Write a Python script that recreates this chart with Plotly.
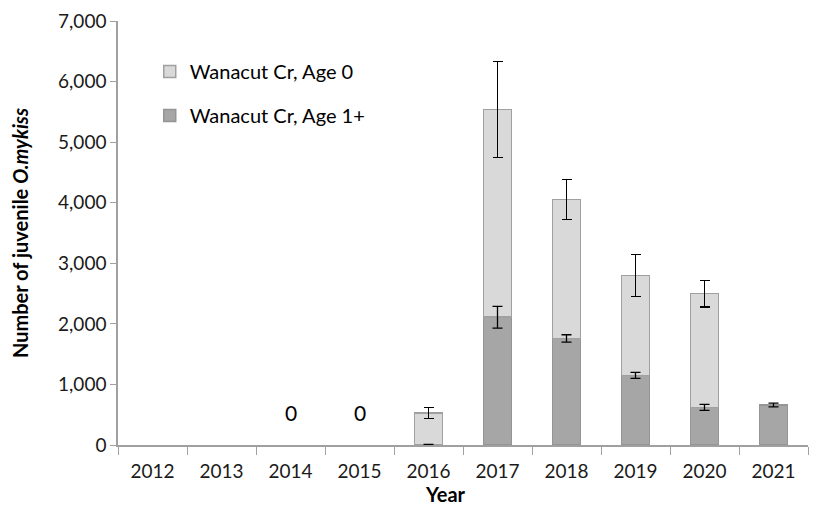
import plotly.graph_objects as go

years = ["2012", "2013", "2014", "2015", "2016", "2017", "2018", "2019", "2020", "2021"]
age0 = [None, None, None, None, 520, 3430, 2290, 1650, 1880, None]
age0_err = [None, None, None, None, 90, 790, 330, 350, 220, None]
age1 = [None, None, None, None, 10, 2110, 1760, 1150, 620, 660]
age1_err = [None, None, None, None, 0, 180, 60, 50, 50, 30]
zero_years = ["2014", "2015"]
zero_label_y = 530

font_family = "Lato, 'Open Sans', sans-serif"

fig = go.Figure()

fig.add_trace(
    go.Bar(
        x=years,
        y=age1,
        name="Wanacut Cr, Age 1+",
        marker=dict(color="#a6a6a6", line=dict(color="#959595", width=1.5)),
        width=0.4,
        legendgroup="b",
        legendrank=2,
    )
)

fig.add_trace(
    go.Bar(
        x=years,
        y=age0,
        name="Wanacut Cr, Age 0",
        marker=dict(color="#d9d9d9", line=dict(color="#a0a0a0", width=1.5)),
        error_y=dict(type="data", array=age0_err, color="black", thickness=1.3, width=5),
        width=0.4,
        legendgroup="a",
        legendrank=1,
    )
)

# Age 1+ error bars drawn on top of the stack (otherwise hidden by the Age 0 bars)
fig.add_trace(
    go.Scatter(
        x=years,
        y=age1,
        mode="markers",
        marker=dict(size=1, opacity=0),
        error_y=dict(type="data", array=age1_err, color="black", thickness=1.3, width=5),
        showlegend=False,
        hoverinfo="skip",
    )
)

# zero labels for years with no fish (category index so autorange isn't affected)
for yr in zero_years:
    fig.add_annotation(
        x=years.index(yr), y=zero_label_y, text="0", showarrow=False,
        font=dict(size=21, color="black", family=font_family),
    )

# x axis title, placed by hand
fig.add_annotation(
    x=0.474, y=0, xref="paper", yref="paper", yanchor="middle", yshift=-49,
    text="<b>Year</b>", showarrow=False,
    font=dict(size=20, color="black", family=font_family),
)

# page body has an 8px margin, so margins are shifted by that amount
fig.update_layout(
    barmode="stack",
    width=810,
    height=498,
    plot_bgcolor="white",
    paper_bgcolor="white",
    margin=dict(l=110, r=10, t=13, b=61),
    font=dict(family=font_family, size=19, color="#1a1a1a"),
    legend=dict(
        x=0.046, y=0.927, xanchor="left", yanchor="top",
        traceorder="grouped",
        tracegroupgap=15,
        font=dict(size=20, color="black"),
        bgcolor="rgba(0,0,0,0)",
    ),
    xaxis=dict(
        type="category",
        categoryorder="array", categoryarray=years,
        range=[-0.5, 9.5],
        automargin=False,
        showline=True, linecolor="#a0a0a0", linewidth=1.5,
        ticks="outside", tickson="boundaries", ticklen=8, tickcolor="#a0a0a0",
        ticklabelstandoff=8,
        tickfont=dict(size=19),
    ),
    yaxis=dict(
        range=[0, 7000], dtick=1000, tickformat=",",
        automargin=False,
        showline=True, linecolor="#a0a0a0", linewidth=1.5,
        ticks="outside", ticklen=6, tickcolor="#a0a0a0",
        showgrid=False, zeroline=False,
        tickfont=dict(size=19),
        title=dict(text="<b>Number of juvenile <i>O.mykiss</i></b>", font=dict(size=20, color="black"), standoff=35),
    ),
)

fig.write_html("out.html")
